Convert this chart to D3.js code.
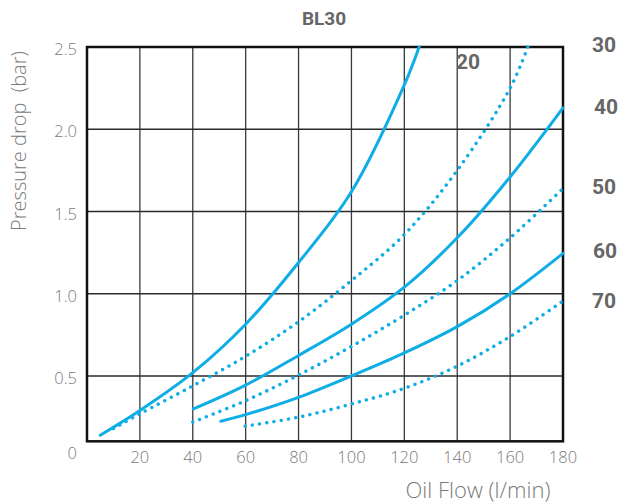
<!DOCTYPE html>
<html>
<head>
<meta charset="utf-8">
<script src="https://cdn.jsdelivr.net/npm/d3@7"></script>
<style>
  body { margin: 0; background: #fff; }
  svg text { font-family: "Open Sans", "Noto Sans", sans-serif; }
</style>
</head>
<body>
<svg id="chart" width="627" height="504"></svg>
<script>
// flow (l/min) and pressure drop (bar), one pair per curve
var flow20 = [5, 20, 40, 60, 80, 100, 120, 125.6];
var drop20 = [0.14, 0.29, 0.52, 0.815, 1.19, 1.62, 2.27, 2.5];

var flow30 = [10, 20, 40, 60, 80, 100, 120, 140, 160, 166.7];
var drop30 = [0.18, 0.27, 0.44, 0.62, 0.83, 1.08, 1.36, 1.75, 2.25, 2.5];

var flow40 = [40.2, 60, 80, 100, 120, 140, 160, 180];
var drop40 = [0.30, 0.445, 0.625, 0.815, 1.04, 1.34, 1.71, 2.13];

var flow50 = [40, 60, 80, 100, 120, 140, 160, 180];
var drop50 = [0.22, 0.35, 0.506, 0.68, 0.87, 1.08, 1.34, 1.64];

var flow60 = [50.6, 60, 80, 100, 120, 140, 160, 180];
var drop60 = [0.225, 0.265, 0.37, 0.50, 0.64, 0.80, 1.0, 1.245];

var flow70 = [59.8, 80, 100, 120, 140, 160, 180];
var drop70 = [0.195, 0.25, 0.33, 0.425, 0.56, 0.74, 0.956];

var curveNames = ["20", "30", "40", "50", "60", "70"];
var xTicks = [20, 40, 60, 80, 100, 120, 140, 160, 180];
var yTicks = [0, 0.5, 1.0, 1.5, 2.0, 2.5];

var svg = d3.select("#chart");
var blue = "#0fade6";

var x = d3.scaleLinear().domain([0, 180]).range([87, 563]);
var y = d3.scaleLinear().domain([0, 2.5]).range([458.25, 47]);
var yFloor = 0.103; // frame bottom sits a bit above zero

// grid
svg.append("g").selectAll("line").data(xTicks.slice(0, -1)).enter().append("line")
    .attr("x1", function (d) { return x(d); }).attr("x2", function (d) { return x(d); })
    .attr("y1", y(2.5)).attr("y2", y(yFloor))
    .attr("stroke", "#3a3a3a").attr("stroke-width", 1.3);
svg.append("g").selectAll("line").data([0.5, 1.0, 1.5, 2.0]).enter().append("line")
    .attr("x1", x(0)).attr("x2", x(180))
    .attr("y1", function (d) { return y(d); }).attr("y2", function (d) { return y(d); })
    .attr("stroke", "#2a2a2a").attr("stroke-width", 1.3);

// frame
svg.append("rect")
    .attr("x", x(0)).attr("y", y(2.5))
    .attr("width", x(180) - x(0)).attr("height", y(yFloor) - y(2.5))
    .attr("fill", "none").attr("stroke", "#111").attr("stroke-width", 2.5);

// curves
var line = d3.line()
    .x(function (d) { return x(d[0]); })
    .y(function (d) { return y(d[1]); })
    .curve(d3.curveCatmullRom.alpha(0.5));

var series = [
    { f: flow20, p: drop20, dotted: false },
    { f: flow30, p: drop30, dotted: true },
    { f: flow40, p: drop40, dotted: false },
    { f: flow50, p: drop50, dotted: true },
    { f: flow60, p: drop60, dotted: false },
    { f: flow70, p: drop70, dotted: true }
];

series.forEach(function (s) {
    var pts = d3.zip(s.f, s.p);
    var path = svg.append("path")
        .attr("d", line(pts))
        .attr("fill", "none")
        .attr("stroke", blue)
        .attr("stroke-linecap", "round");
    if (s.dotted) {
        path.attr("stroke-width", 3.4).attr("stroke-dasharray", "0.1 7.2");
    } else {
        path.attr("stroke-width", 3);
    }
});

// tick labels
svg.append("g").selectAll("text").data(xTicks).enter().append("text")
    .attr("x", function (d) { return x(d); })
    .attr("y", 463)
    .attr("text-anchor", "middle")
    .attr("fill", "#7a7a7a")
    .style("font-size", "16.5px").style("font-weight", 300)
    .text(function (d) { return d; });

svg.append("g").selectAll("text").data(yTicks).enter().append("text")
    .attr("x", 77)
    .attr("y", function (d) { return d === 0 ? y(d) + 1 : y(d) + 8; })
    .attr("text-anchor", "end")
    .attr("fill", "#7a7a7a")
    .style("font-size", "16.5px").style("font-weight", 300)
    .text(function (d) { return d === 0 ? "0" : d.toFixed(1); });

// axis titles
svg.append("text")
    .attr("x", 478).attr("y", 498)
    .attr("text-anchor", "middle")
    .attr("fill", "#7a7a7a")
    .style("font-size", "22px").style("font-weight", 300)
    .text("Oil Flow (l/min)");

svg.append("text")
    .attr("transform", "translate(26,141) rotate(-90)")
    .attr("text-anchor", "middle")
    .attr("fill", "#7a7a7a")
    .style("font-size", "20px").style("font-weight", 300)
    .text("Pressure drop \u00a0(bar)");

svg.append("text")
    .attr("x", 324).attr("y", 25)
    .attr("text-anchor", "middle")
    .attr("fill", "#666")
    .style("font-family", "Roboto, sans-serif")
    .style("font-size", "19px").style("font-weight", 700)
    .text("BL30");

// curve labels
var labelPos = [[468, 61], [604, 44], [606, 106], [604, 186], [605, 250], [604, 300]];
svg.append("g").selectAll("text").data(curveNames).enter().append("text")
    .attr("x", function (d, i) { return labelPos[i][0]; })
    .attr("y", function (d, i) { return labelPos[i][1] + 7.5; })
    .attr("text-anchor", "middle")
    .attr("fill", "#666")
    .style("font-family", "Roboto, sans-serif")
    .style("font-size", "21px").style("font-weight", 700)
    .text(function (d) { return d; });
</script>
</body>
</html>
